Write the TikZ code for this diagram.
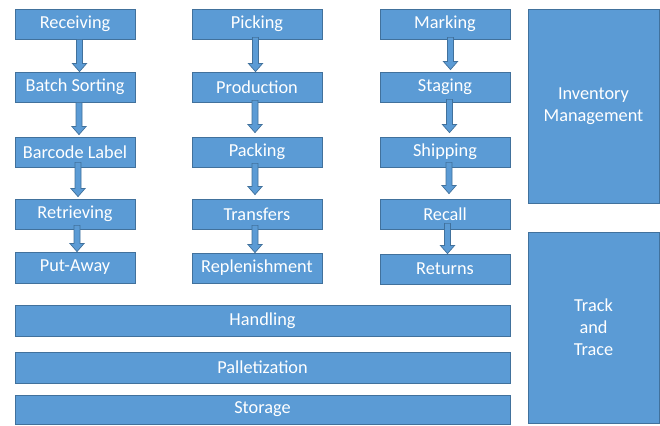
\documentclass[tikz,border=0pt]{standalone}
\usepackage{fontspec}
\setmainfont{Carlito}
\usetikzlibrary{calc}
\definecolor{boxfill}{HTML}{5B9BD5}
\definecolor{boxline}{HTML}{41719C}

% Block arrow from the bottom of one box to the top of the next:
% #1 source, #2 target, #3 x offset, #4 overlap into source, #5 gap above target
\newcommand\flowarrow[5]{%
  \draw[flowarrow] let \p1=(#1.south), \p2=(#2.north), \n1={\x1+#3} in
    (\n1-3,\y1+#4) -- (\n1-3,\y2+#5+8) -- (\n1-7,\y2+#5+8) -- (\n1,\y2+#5)
    -- (\n1+7,\y2+#5+8) -- (\n1+3,\y2+#5+8) -- (\n1+3,\y1+#4) -- cycle;}

\begin{document}
\begin{tikzpicture}[x=1pt,y=1pt,
  box/.style={draw=boxline, fill=boxfill, line width=0.8pt, text=white,
    inner sep=0pt, align=center, font=\fontsize{18.3}{22}\selectfont},
  smallbox/.style={box, minimum width=120pt, minimum height=30pt},
  midbox/.style={box, minimum width=130pt, minimum height=30pt},
  widebox/.style={box, minimum width=495pt, minimum height=31pt},
  sidebox/.style={box, minimum width=131pt},
  flowarrow/.style={draw=boxline, fill=boxfill, line width=0.7pt, line join=miter}]
\useasboundingbox (0,0) rectangle (660,425);

% left column
\node[smallbox] (recv)     at (75,401)   {Receiving};
\node[smallbox] (batch)    at (75,338)   {Batch Sorting};
\node[smallbox] (barcode)  at (75,273)   {Barcode Label};
\node[smallbox] (retr)     at (75,211)   {Retrieving};
\node[smallbox, minimum height=31pt] (putaway) at (75,157.5) {Put-Away};

% middle column
\node[midbox] (picking)    at (257,401)  {Picking};
\node[midbox] (production) at (257,338)  {Production};
\node[midbox] (packing)    at (257,273)  {Packing};
\node[midbox] (transfers)  at (257,211)  {Transfers};
\node[midbox] (replen)     at (257,157)  {Replenishment};

% right column
\node[midbox] (marking)    at (445,401)  {Marking};
\node[midbox] (staging)    at (445,338)  {Staging};
\node[midbox] (shipping)   at (445,273)  {Shipping};
\node[midbox] (recall)     at (445,211)  {Recall};
\node[midbox] (returns)    at (445,156)  {Returns};

% full-width bars
\node[widebox] (handling) at (262.5,104.5) {Handling};
\node[widebox] (pallet)   at (262.5,57.5)  {Palletization};
\node[widebox, minimum height=29pt] (storage) at (262.5,15.5) {Storage};

% side panels
\node[sidebox, minimum height=194pt] (inventory) at (593.5,319)  {Inventory\\Management};
\node[sidebox, minimum height=191pt] (track)     at (593.5,97.5) {Track\\and\\Trace};

% flow arrows
\flowarrow{recv}{batch}{4.5}{0}{0}
\flowarrow{batch}{barcode}{4}{0}{2}
\flowarrow{barcode}{retr}{3}{5}{2}
\flowarrow{retr}{putaway}{2}{4}{0}

\flowarrow{picking}{production}{-1.5}{2}{0}
\flowarrow{production}{packing}{-2}{2}{4}
\flowarrow{packing}{transfers}{-2}{4}{4}
\flowarrow{transfers}{replen}{-2}{4}{0}

\flowarrow{marking}{staging}{5.5}{2}{2}
\flowarrow{staging}{shipping}{4.5}{3}{4}
\flowarrow{shipping}{recall}{4}{5}{5}
\flowarrow{recall}{returns}{2.5}{6}{0}
\end{tikzpicture}
\end{document}
